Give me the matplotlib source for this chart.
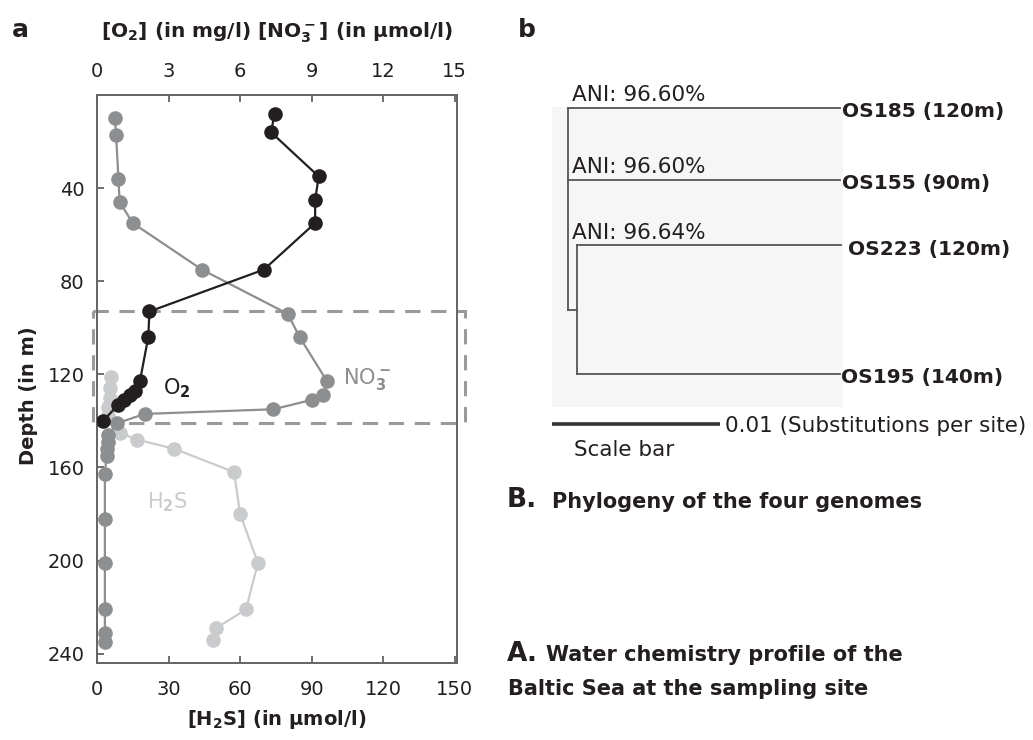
import matplotlib
matplotlib.use("Agg")
import matplotlib.pyplot as plt
from matplotlib.patches import Rectangle

plt.rcParams["font.family"] = ["DejaVu Sans"]
plt.rcParams["mathtext.fontset"] = "custom"
plt.rcParams["mathtext.rm"] = "DejaVu Sans:bold"
plt.rcParams["mathtext.it"] = "DejaVu Sans:bold"
plt.rcParams["mathtext.bf"] = "DejaVu Sans:bold"
plt.rcParams["mathtext.default"] = "rm"

# --- water chemistry profile ---
o2_depth = [8, 16, 35, 45, 55, 75, 93, 104, 123, 127, 129, 131, 133, 140]
o2_mgl = [7.45, 7.3, 9.3, 9.15, 9.15, 7.0, 2.2, 2.15, 1.8, 1.6, 1.4, 1.15, 0.9, 0.25]

no3_depth = [10, 17, 36, 46, 55, 75, 94, 104, 123, 129, 131, 135, 137, 141,
             146, 149, 152, 155, 163, 182, 201, 221, 231, 235]
no3_umol = [0.75, 0.8, 0.9, 0.95, 1.5, 4.4, 8.0, 8.5, 9.65, 9.5, 9.0, 7.4, 2.0, 0.85,
            0.45, 0.45, 0.4, 0.4, 0.33, 0.33, 0.33, 0.33, 0.33, 0.33]

h2s_depth = [121, 126, 130, 134, 138, 145, 148, 152, 162, 180, 201, 221, 229, 234]
h2s_umol = [6.0, 5.4, 5.5, 4.5, 4.5, 9.6, 16.6, 32.5, 57.5, 60.0, 67.5, 62.5, 50.0, 48.5]

redoxcline = (93, 141)  # depth range of the boxed layer

depth_ticks = [40, 80, 120, 160, 200, 240]
top_ticks = [0, 3, 6, 9, 12, 15]
h2s_ticks = [0, 30, 60, 90, 120, 150]

# --- phylogeny ---
leaves = ["OS185 (120m)", "OS155 (90m)", "OS223 (120m)", "OS195 (140m)"]
ani_labels = ["ANI: 96.60%", "ANI: 96.60%", "ANI: 96.64%"]
leaf_rows = [0.0, 1.0, 1.91, 3.70]
root_x = 0.00095
inner_len = 0.00054
leaf_len = [0.0162, 0.0162, 0.01574, 0.01564]
scale_len = 0.01

C_O2 = "#231f20"
C_NO3 = "#8c8e90"
C_H2S = "#c9cbcc"
C_TXT = "#231f20"

fig = plt.figure(figsize=(10.33, 7.4), dpi=100)

ax = fig.add_axes([97 / 1033, 1 - 663 / 740, 360 / 1033, 568 / 740])
ax.plot(h2s_umol, h2s_depth, "-o", color=C_H2S, lw=1.6, ms=10.5, mec="none", zorder=2)
ax.set_xlim(0, 151)
ax.set_ylim(244, 0)
ax.set_xticks(h2s_ticks)
ax.set_yticks(depth_ticks)
ax.tick_params(direction="in", length=5, width=1.2, color="#555555",
               labelsize=14, labelcolor=C_TXT, pad=12)
ax.tick_params(axis="y", pad=9)
ax.set_xlabel("[H$_2$S] (in μmol/l)", fontsize=14, fontweight="bold", color=C_TXT, labelpad=7)
ax.set_ylabel("Depth (in m)", fontsize=14, fontweight="bold", color=C_TXT)
ax.yaxis.set_label_coords(-0.165, 0.47)

top = ax.twiny()
top.plot(no3_umol, no3_depth, "-o", color=C_NO3, lw=1.6, ms=10.5, mec="none", zorder=3)
top.plot(o2_mgl, o2_depth, "-o", color=C_O2, lw=1.6, ms=10.5, mec="none", zorder=4)
top.set_xlim(0, 15.1)
top.set_xticks(top_ticks)
top.tick_params(direction="in", length=5, width=1.2, color="#555555",
                labelsize=14, labelcolor=C_TXT, pad=10)
top.set_xlabel("[O$_2$] (in mg/l) [NO$_3^-$] (in μmol/l)", fontsize=14.5,
               fontweight="bold", color=C_TXT, labelpad=18)

for a in (ax, top):
    for s in a.spines.values():
        s.set_color("#666666")
        s.set_linewidth(1.3)

top.add_patch(Rectangle((-0.17, redoxcline[0]), 15.6, redoxcline[1] - redoxcline[0],
                        fill=False, ec="#9a9a9a", lw=2.2, ls=(0, (5, 3.5)),
                        clip_on=False, zorder=1))

top.text(2.75, 126, "O$_2$", fontsize=15, color=C_O2, ha="left", va="center")
top.text(10.3, 122, "NO$_3^-$", fontsize=15, color=C_NO3, ha="left", va="center")
top.text(2.1, 175, "H$_2$S", fontsize=15, color=C_H2S, ha="left", va="center")

# --- tree panel ---
tx0, tx1 = 552 / 1033, 1033 / 1033
tax = fig.add_axes([tx0, 1 - 470 / 740, tx1 - tx0, 390 / 740])
px_per_unit = 168 / scale_len
tax.set_xlim(0, (1033 - 552) / px_per_unit)
tax.set_ylim(5.03, -0.39)
tax.axis("off")

tax.add_patch(Rectangle((0, -0.02), 0.0173, 4.17, fc="#f6f6f6", ec="none", zorder=0))

lc = "#555555"
inner_x = root_x + inner_len
inner_y = (leaf_rows[2] + leaf_rows[3]) / 2
tax.plot([root_x, root_x], [leaf_rows[0], inner_y], color=lc, lw=1.3)
tax.plot([root_x, inner_x], [inner_y, inner_y], color=lc, lw=1.3)
tax.plot([inner_x, inner_x], [leaf_rows[2], leaf_rows[3]], color=lc, lw=1.3)
starts = [root_x, root_x, inner_x, inner_x]
for i, (name, row, x0, ln) in enumerate(zip(leaves, leaf_rows, starts, leaf_len)):
    tax.plot([x0, x0 + ln], [row, row], color=lc, lw=1.3)
    gap = 0.0004 if i == 2 else 0.0001
    tax.text(x0 + ln + gap, row + 0.05, name, fontsize=14.5, fontweight="bold",
             color=C_TXT, ha="left", va="center")
for row, lab in zip(leaf_rows[:3], ani_labels):
    tax.text(0.00118, row - 0.04, lab, fontsize=15.5, color=C_TXT, ha="left", va="bottom")

tax.plot([0, scale_len], [4.39, 4.39], color="#333333", lw=2.6, solid_capstyle="butt")
tax.text(scale_len + 0.0003, 4.42, "0.01 (Substitutions per site)", fontsize=15.5,
         color=C_TXT, ha="left", va="center")
tax.text(0.0013, 4.75, "Scale bar", fontsize=15.5, color=C_TXT, ha="left", va="center")

# --- panel letters and captions ---
fig.text(12 / 1033, 1 - 30 / 740, "a", fontsize=18, fontweight="bold", color=C_TXT, va="center")
fig.text(518 / 1033, 1 - 30 / 740, "b", fontsize=18, fontweight="bold", color=C_TXT, va="center")

fig.text(507 / 1033, 1 - 500 / 740, "B.", fontsize=19, fontweight="bold", color=C_TXT, va="center")
fig.text(552 / 1033, 1 - 502 / 740, "Phylogeny of the four genomes", fontsize=15,
         fontweight="bold", color=C_TXT, va="center")
fig.text(507 / 1033, 1 - 654 / 740, "A.", fontsize=19, fontweight="bold", color=C_TXT, va="center")
fig.text(546 / 1033, 1 - 655 / 740, "Water chemistry profile of the", fontsize=15,
         fontweight="bold", color=C_TXT, va="center")
fig.text(508 / 1033, 1 - 689 / 740, "Baltic Sea at the sampling site", fontsize=15,
         fontweight="bold", color=C_TXT, va="center")

fig.savefig("out.png", dpi=100)
